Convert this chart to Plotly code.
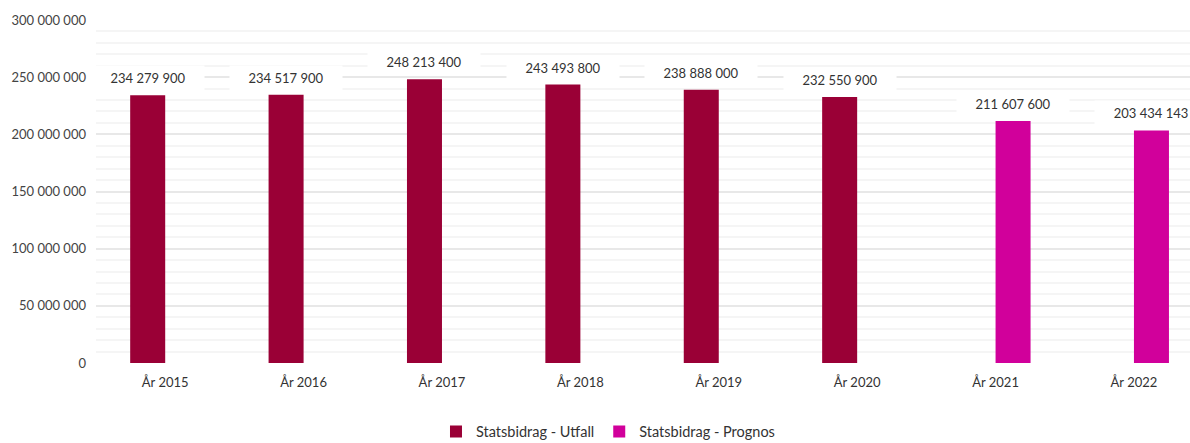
import plotly.graph_objects as go

categories = ["År 2015", "År 2016", "År 2017", "År 2018", "År 2019", "År 2020", "År 2021", "År 2022"]
utfall = [234279900, 234517900, 248213400, 243493800, 238888000, 232550900, None, None]
prognos = [None, None, None, None, None, None, 211607600, 203434143]
series_names = ["Statsbidrag - Utfall", "Statsbidrag - Prognos"]
colors = ["#9a0036", "#d1009b"]

FONT = "Lato, 'Source Sans Pro', 'Noto Sans', sans-serif"

fig = go.Figure()
for name, vals, col in zip(series_names, [utfall, prognos], colors):
    fig.add_trace(go.Bar(x=categories, y=vals, name=name, marker=dict(color=col, line=dict(width=0))))

def fmt(v):
    return f"{v:,}".replace(",", " ")

annotations = []
for vals, shift in [(utfall, -17.5), (prognos, 17.5)]:
    for c, v in zip(categories, vals):
        if v is None:
            continue
        annotations.append(dict(
            x=c, y=v, text=fmt(v), showarrow=False, xshift=shift, yshift=17,
            yanchor="middle", xanchor="center", bgcolor="white", width=110, height=22,
            font=dict(family=FONT, size=13, color="#333333"),
        ))

fig.update_layout(
    width=1190, height=443,
    margin=dict(l=96, r=0, t=20, b=80, autoexpand=False),
    paper_bgcolor="white", plot_bgcolor="white",
    barmode="group", bargap=0.494, bargroupgap=0,
    separators=", ",
    font=dict(family=FONT, size=13, color="#444444"),
    annotations=annotations,
    legend=dict(orientation="h", xref="paper", x=0.468, xanchor="center",
                yref="paper", y=-0.2, yanchor="middle",
                font=dict(family=FONT, size=14.5, color="#333333"), itemwidth=30),
    xaxis=dict(range=[-0.5, 7.405], showgrid=False, zeroline=False, showline=False,
               ticks="", ticklabelstandoff=10, tickangle=0,
               tickfont=dict(family=FONT, size=13, color="#333333")),
    yaxis=dict(range=[0, 300e6], dtick=50e6, tickformat=",d", showgrid=True,
               gridcolor="#e8e8e8", gridwidth=2, zeroline=False, showline=False,
               ticklabelstandoff=9,
               tickfont=dict(family=FONT, size=13, color="#444444"),
               minor=dict(dtick=10e6, showgrid=True, gridcolor="#f5f5f5", gridwidth=2)),
)

fig.write_html("out.html", config={"displayModeBar": False},
               post_script="document.body.style.margin='0px';")
